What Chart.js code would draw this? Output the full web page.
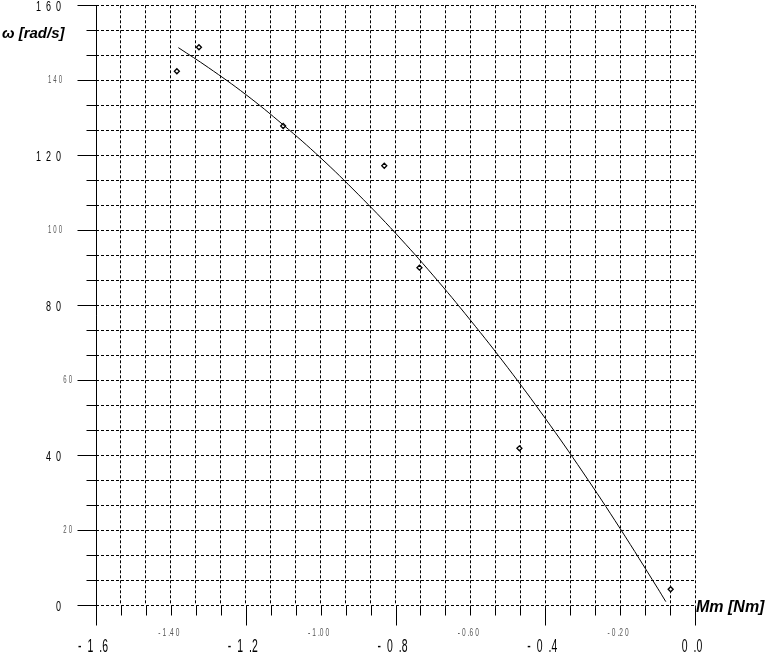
<!DOCTYPE html>
<html>
<head>
<meta charset="utf-8">
<script src="https://cdn.jsdelivr.net/npm/chart.js@4"></script>
<style>
body { margin: 0; background: #fff; }
</style>
</head>
<body>
<canvas id="speedChart" width="768" height="661"></canvas>
<script>
// measured points: torque [Nm] and speed [rad/s]
const measuredTorque = [-1.384, -1.325, -1.100, -0.830, -0.736, -0.469, -0.065];
const measuredSpeed = [142.4, 148.8, 127.8, 117.2, 90.0, 41.8, 4.2];

// fitted curve
const fitTorque = [-1.38, -1.30, -1.20, -1.10, -1.00, -0.90, -0.80, -0.70, -0.60, -0.50, -0.40, -0.30, -0.20, -0.10, -0.078];
const fitSpeed = [148.7, 143.4, 136.2, 128.1, 119.3, 109.6, 99.2, 88.0, 76.0, 63.3, 49.8, 35.5, 20.4, 4.5, 0.9];

// tick labels
const xMajorLabels = ['-1.6', '-1.2', '-0.8', '-0.4', '0.0'];
const xMinorLabels = ['-1.40', '-1.00', '-0.60', '-0.20'];
const yMajorLabels = ['160', '120', '80', '40', '0'];
const yMinorLabels = ['140', '100', '60', '20'];

const X_MIN = -1.6, X_MAX = 0, X_STEP = 0.4 / 6;
const Y_MIN = 0, Y_MAX = 160, Y_STEP = 20 / 3;
const FONT = '"Liberation Sans", Arial, sans-serif';

function gridTicks(min, step, count) {
    let out = [];
    for (let i = 0; i <= count; i++) out.push({ value: min + i * step });
    return out;
}

// draws a label char by char, squeezed and spaced like the old plotter font
function drawSpaced(ctx, text, x, y, align, size, gap, sx, color) {
    ctx.save();
    ctx.font = size + 'px ' + FONT;
    ctx.fillStyle = color;
    ctx.textBaseline = 'middle';
    ctx.textAlign = 'left';
    let chars = text.split('');
    let widths = chars.map(c => ctx.measureText(c).width * sx);
    let total = 0;
    chars.forEach((c, i) => {
        total += widths[i];
        if (i < chars.length - 1 && c !== '.') total += gap;
    });
    let cx = align === 'right' ? x - total : (align === 'center' ? x - total / 2 : x);
    chars.forEach((c, i) => {
        ctx.save();
        ctx.translate(cx, y);
        ctx.scale(sx, 1);
        ctx.fillText(c, 0, 0);
        ctx.restore();
        cx += widths[i];
        if (c !== '.') cx += gap;
    });
    ctx.restore();
}

const axesPlugin = {
    id: 'oldAxes',
    afterDraw(chart) {
        const ctx = chart.ctx;
        const xs = chart.scales.x, ys = chart.scales.y;
        const area = chart.chartArea;
        const ax = Math.round(area.left) + 0.5;
        const ay = Math.round(area.bottom) + 0.5;
        ctx.save();
        ctx.strokeStyle = '#000';
        ctx.lineWidth = 1;
        ctx.beginPath();
        // y axis line, runs past the x axis
        ctx.moveTo(ax, area.top);
        ctx.lineTo(ax, ay + 20);
        // y ticks
        for (let i = 0; i <= 24; i++) {
            let py = Math.round(ys.getPixelForValue(Y_MIN + i * Y_STEP)) + 0.5;
            let len = i % 3 === 0 ? 19 : 10;
            ctx.moveTo(ax - len, py);
            ctx.lineTo(ax, py);
        }
        // x ticks
        for (let i = 1; i <= 24; i++) {
            let px = Math.round(xs.getPixelForValue(X_MIN + i * X_STEP)) + 0.5;
            let len = i % 6 === 0 ? 20 : 10;
            ctx.moveTo(px, ay);
            ctx.lineTo(px, ay + len);
        }
        ctx.stroke();
        ctx.restore();

        yMajorLabels.forEach(t => {
            drawSpaced(ctx, t, 61, ys.getPixelForValue(parseFloat(t)) + 2, 'right', 15, 5, 0.6, '#000');
        });
        yMinorLabels.forEach(t => {
            // the short labels sit one digit further right
            let right = t.length === 3 ? 62 : 72;
            drawSpaced(ctx, t, right, ys.getPixelForValue(parseFloat(t)), 'right', 10, 2, 0.6, '#555');
        });
        xMajorLabels.forEach(t => {
            drawSpaced(ctx, t, xs.getPixelForValue(parseFloat(t)) - 3, 647, 'center', 19, 6, 0.55, '#000');
        });
        xMinorLabels.forEach(t => {
            drawSpaced(ctx, t, xs.getPixelForValue(parseFloat(t)) - 2, 633, 'center', 11, 2, 0.6, '#555');
        });

        ctx.save();
        ctx.fillStyle = '#000';
        ctx.textBaseline = 'middle';
        ctx.font = 'bold italic 15px ' + FONT;
        ctx.fillText('\u03C9 [rad/s]', 2, 34);
        ctx.font = 'bold italic 16px ' + FONT;
        ctx.fillText('Mm [Nm]', 696, 608);
        ctx.restore();
    }
};

const ctx = document.getElementById('speedChart').getContext('2d');
const speedChart = new Chart(ctx, {
    type: 'scatter',
    data: {
        datasets: [{
            label: 'fit',
            type: 'line',
            data: fitTorque.map((v, i) => ({ x: v, y: fitSpeed[i] })),
            borderColor: '#000',
            borderWidth: 1,
            pointRadius: 0,
            tension: 0.4,
            fill: false
        }, {
            label: 'measured',
            data: measuredTorque.map((v, i) => ({ x: v, y: measuredSpeed[i] })),
            pointStyle: 'rectRot',
            pointRadius: 2.5,
            borderColor: '#000',
            borderWidth: 1.3,
            backgroundColor: '#fff'
        }]
    },
    options: {
        responsive: false,
        animation: false,
        layout: { padding: { left: 96, right: 73, top: 5, bottom: 56 } },
        plugins: { legend: { display: false }, tooltip: { enabled: false } },
        scales: {
            x: {
                type: 'linear', min: X_MIN, max: X_MAX,
                afterBuildTicks: s => { s.ticks = gridTicks(X_MIN, X_STEP, 24); },
                ticks: { display: false },
                grid: { color: '#000', lineWidth: 1, drawTicks: false },
                border: { display: false, dash: [3, 2] }
            },
            y: {
                type: 'linear', min: Y_MIN, max: Y_MAX,
                afterBuildTicks: s => { s.ticks = gridTicks(Y_MIN, Y_STEP, 24); },
                ticks: { display: false },
                grid: { color: '#000', lineWidth: 1, drawTicks: false },
                border: { display: false, dash: [3, 2] }
            }
        }
    },
    plugins: [axesPlugin]
});
</script>
</body>
</html>
